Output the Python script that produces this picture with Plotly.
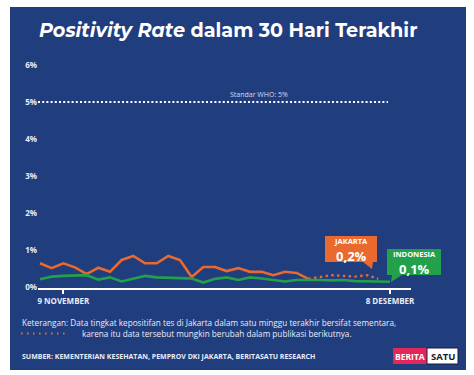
import plotly.graph_objects as go

# ---------------- data ----------------
day_index = list(range(31))  # 31 days shown on the x axis
tick_days = [2, 30]
tick_labels = ["9 NOVEMBER", "8 DESEMBER"]

jakarta = [0.64, 0.51, 0.64, 0.53, 0.35, 0.52, 0.41, 0.73, 0.84, 0.64,
           0.64, 0.84, 0.73, 0.27, 0.54, 0.54, 0.43, 0.51, 0.41, 0.41,
           0.32, 0.41, 0.38, 0.22, 0.27, 0.32, 0.30, 0.28, 0.32, 0.22]
jakarta_final_count = 24  # first 24 values are final; rest provisional (dotted)

indonesia = [0.21, 0.28, 0.30, 0.31, 0.32, 0.20, 0.26, 0.15, 0.22, 0.30,
             0.26, 0.24, 0.24, 0.23, 0.12, 0.22, 0.26, 0.19, 0.26, 0.23,
             0.19, 0.15, 0.19, 0.20, 0.19, 0.18, 0.19, 0.16, 0.15, 0.14, 0.14]

y_ticks = [0, 1, 2, 3, 4, 5, 6]
y_tick_labels = ["0%", "1%", "2%", "3%", "4%", "5%", "6%"]
WHO_STANDARD = 5

# ---------------- style ----------------
NAVY = "#203d7e"
ORANGE = "#e9692f"
GREEN = "#22a04b"
TXT = "#e9ecf6"
FONT = "Open Sans"

W, H = 474, 375
L, R, T, B = 38, 411, 60, 288   # plot area in pixels


def px(p):
    return (p - L) / (R - L)


def py(q):
    return (B - q) / (B - T)


fig = go.Figure()

fig.add_trace(go.Scatter(
    x=day_index[:jakarta_final_count], y=jakarta[:jakarta_final_count],
    mode="lines", line=dict(color=ORANGE, width=2.6), hoverinfo="skip"))
fig.add_trace(go.Scatter(
    x=day_index[jakarta_final_count - 1:len(jakarta)],
    y=jakarta[jakarta_final_count - 1:],
    mode="lines", line=dict(color=ORANGE, width=2.4, dash="2.5px,3.3px"),
    hoverinfo="skip"))
fig.add_trace(go.Scatter(
    x=day_index[:len(indonesia)], y=indonesia,
    mode="lines", line=dict(color=GREEN, width=2.6), hoverinfo="skip"))

shapes = []
# navy panel
shapes.append(dict(type="rect", xref="paper", yref="paper",
                   x0=px(10), x1=px(466), y0=py(370), y1=py(7),
                   fillcolor=NAVY, line=dict(width=0), layer="below"))
# WHO line
shapes.append(dict(type="line", xref="paper", yref="y",
                   x0=px(38), x1=px(388), y0=WHO_STANDARD, y1=WHO_STANDARD,
                   line=dict(color="white", width=2, dash="2px,2.2px"),
                   layer="above"))
# Jakarta callout
shapes.append(dict(type="path", xref="paper", yref="paper",
                   path=(f"M {px(325)},{py(236)} L {px(377)},{py(236)} "
                         f"L {px(377)},{py(262)} L {px(373)},{py(262)} "
                         f"L {px(372)},{py(269)} L {px(363)},{py(262)} "
                         f"L {px(325)},{py(262)} Z"),
                   fillcolor=ORANGE, line=dict(width=0)))
# Indonesia callout
shapes.append(dict(type="path", xref="paper", yref="paper",
                   path=(f"M {px(387)},{py(249)} L {px(441)},{py(249)} "
                         f"L {px(441)},{py(275)} L {px(402)},{py(275)} "
                         f"L {px(391)},{py(282)} L {px(392)},{py(275)} "
                         f"L {px(387)},{py(275)} Z"),
                   fillcolor=GREEN, line=dict(width=0)))
# dotted legend marker in footer
shapes.append(dict(type="line", xref="paper", yref="paper",
                   x0=px(21), x1=px(68), y0=py(333.5), y1=py(333.5),
                   line=dict(color=ORANGE, width=2, dash="1.6px,4.4px")))
# logo
shapes.append(dict(type="rect", xref="paper", yref="paper",
                   x0=px(393), x1=px(427), y0=py(364), y1=py(348),
                   fillcolor="#e2285a", line=dict(width=0)))
shapes.append(dict(type="rect", xref="paper", yref="paper",
                   x0=px(427), x1=px(458), y0=py(364), y1=py(348),
                   fillcolor="white", line=dict(color="#1a1a2e", width=1)))

ann = []
ann.append(dict(xref="paper", yref="paper", x=px(37), y=py(30),
                xanchor="left", yanchor="middle", showarrow=False,
                text="<b><i>Positivity Rate</i> dalam 30 Hari Terakhir</b>",
                font=dict(family="Montserrat, " + FONT, size=19.2, color="white")))
ann.append(dict(xref="paper", yref="y", x=px(228), y=WHO_STANDARD,
                xanchor="left", yanchor="bottom", showarrow=False, yshift=1,
                text="Standar WHO: 5%",
                font=dict(family=FONT, size=7, color="#d7dcec")))
ann.append(dict(xref="paper", yref="paper", x=px(351), y=py(241),
                xanchor="center", yanchor="middle", showarrow=False,
                text="<b>JAKARTA</b>",
                font=dict(family=FONT, size=7.5, color="white")))
ann.append(dict(xref="paper", yref="paper", x=px(351), y=py(255.5),
                xanchor="center", yanchor="middle", showarrow=False,
                text="<b>0,2%</b>",
                font=dict(family=FONT, size=13, color="white")))
ann.append(dict(xref="paper", yref="paper", x=px(414), y=py(254),
                xanchor="center", yanchor="middle", showarrow=False,
                text="<b>INDONESIA</b>",
                font=dict(family=FONT, size=7.5, color="white")))
ann.append(dict(xref="paper", yref="paper", x=px(414), y=py(268.5),
                xanchor="center", yanchor="middle", showarrow=False,
                text="<b>0,1%</b>",
                font=dict(family=FONT, size=13, color="white")))
ann.append(dict(xref="paper", yref="paper", x=px(20), y=py(322),
                xanchor="left", yanchor="middle", showarrow=False,
                text="Keterangan: Data tingkat kepositifan tes di Jakarta dalam satu minggu terakhir bersifat sementara,",
                font=dict(family=FONT, size=8.2, color=TXT)))
ann.append(dict(xref="paper", yref="paper", x=px(80), y=py(333.5),
                xanchor="left", yanchor="middle", showarrow=False,
                text="karena itu data tersebut mungkin berubah dalam publikasi berikutnya.",
                font=dict(family=FONT, size=8.2, color=TXT)))
ann.append(dict(xref="paper", yref="paper", x=px(20), y=py(356),
                xanchor="left", yanchor="middle", showarrow=False,
                text="<b>SUMBER: KEMENTERIAN KESEHATAN, PEMPROV DKI JAKARTA, BERITASATU RESEARCH</b>",
                font=dict(family=FONT, size=7, color=TXT)))
ann.append(dict(xref="paper", yref="paper", x=px(410), y=py(356),
                xanchor="center", yanchor="middle", showarrow=False,
                text="<b>BERITA</b>",
                font=dict(family=FONT, size=8.5, color="white")))
ann.append(dict(xref="paper", yref="paper", x=px(442.5), y=py(356),
                xanchor="center", yanchor="middle", showarrow=False,
                text="<b>SATU</b>",
                font=dict(family=FONT, size=9.5, color="#1a1a2e")))

fig.update_layout(
    width=W, height=H,
    margin=dict(l=L, r=W - R, t=T, b=H - B, pad=0),
    paper_bgcolor="white", plot_bgcolor="rgba(0,0,0,0)",
    showlegend=False,
    shapes=shapes, annotations=ann,
    xaxis=dict(range=[-0.17, 31.8], showgrid=False, zeroline=False,
               showline=True, linecolor="white", linewidth=2.2,
               tickmode="array", tickvals=tick_days,
               ticktext=[f"<b>{t}</b>" for t in tick_labels],
               ticks="outside", ticklen=4, tickwidth=1.5, tickcolor="white",
               tickfont=dict(family=FONT, size=8, color=TXT)),
    yaxis=dict(range=[-0.027, 6.135], showgrid=False, zeroline=False,
               showline=False, tickmode="array", tickvals=y_ticks,
               ticktext=[f"<b>{t}</b>" for t in y_tick_labels],
               ticks="", tickfont=dict(family=FONT, size=8, color=TXT)),
)

fig.write_html("out.html", config={"displayModeBar": False},
               post_script="document.body.style.margin='0';document.body.style.overflow='hidden';")
